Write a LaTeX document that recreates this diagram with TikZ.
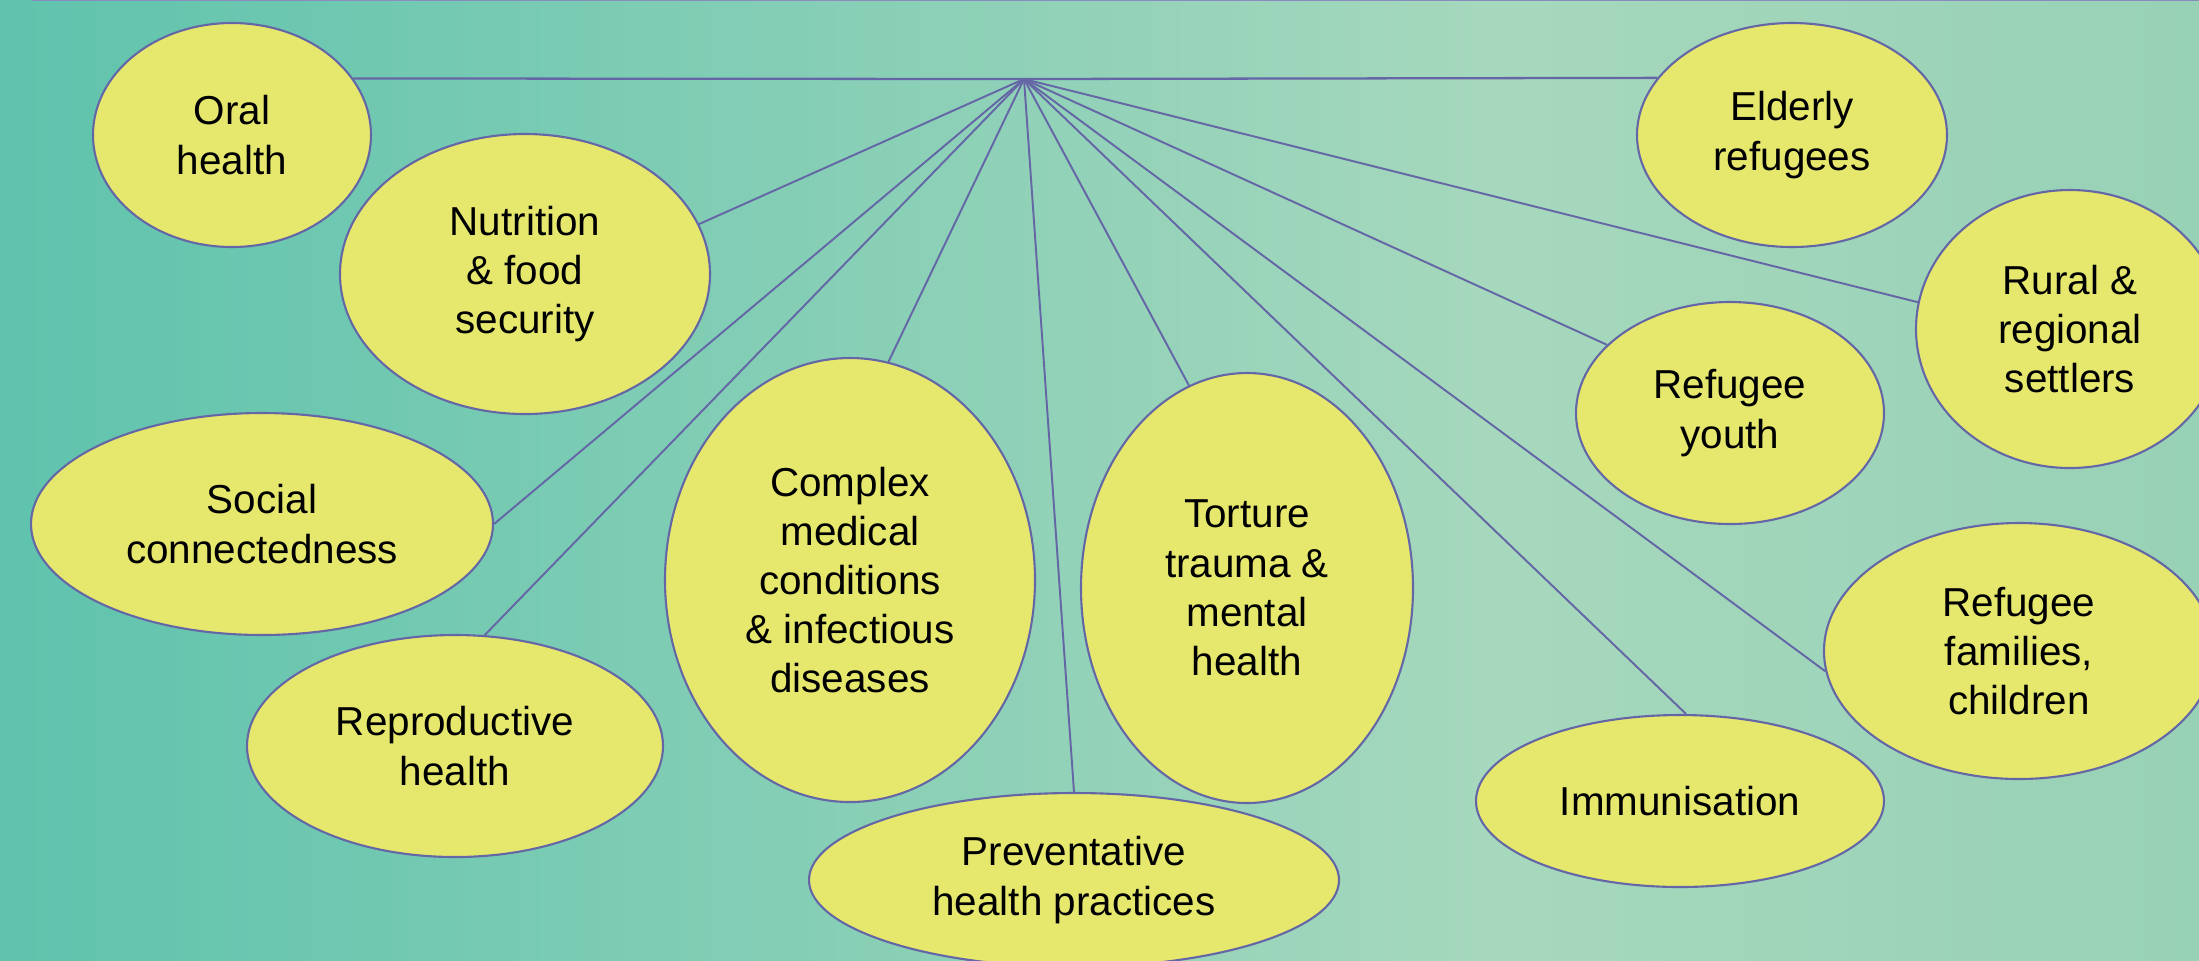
\documentclass[tikz,border=0pt]{standalone}
\usepackage{fontspec}
\setmainfont{Liberation Sans}
\usetikzlibrary{shapes.geometric}
\definecolor{hnyellow}{HTML}{E6E86E}
\definecolor{hnline}{HTML}{6466A6}
\definecolor{hnrule}{HTML}{8A8CC0}
\definecolor{hnbgleft}{HTML}{5FC3AD}
\definecolor{hnbglight}{HTML}{A6D8BD}
\definecolor{hnbgright}{HTML}{97D1B6}

\begin{document}
\begin{tikzpicture}[
  font=\fontsize{11.5}{14}\selectfont,
  topic/.style={ellipse, draw=hnline, fill=hnyellow, line width=0.6pt,
                inner sep=0pt, align=center},
  link/.style={draw=hnline, line width=0.55pt}]

% ---- background -----------------------------------------------------
\useasboundingbox (0,0) rectangle (21.99,-9.6);
\shade[left color=hnbgleft, right color=hnbglight] (0,0) rectangle (15.01,-9.6);
\shade[left color=hnbglight, right color=hnbgright] (15,0) rectangle (21.99,-9.6);
\draw[hnrule, line width=0.4pt] (0.32,-0.005) -- (21.99,-0.005);

% ---- topics ---------------------------------------------------------
\coordinate (hub) at (10.24,-0.79);

\node[topic, minimum width=2.78cm, minimum height=2.24cm] (oral) at (2.32,-1.35)
  {Oral\\health};
\node[topic, minimum width=3.70cm, minimum height=2.80cm] (nutri) at (5.25,-2.74)
  {Nutrition\\\& food\\security};
\node[topic, minimum width=4.62cm, minimum height=2.22cm] (social) at (2.62,-5.24)
  {Social\\connectedness};
\node[topic, minimum width=4.16cm, minimum height=2.22cm] (repro) at (4.55,-7.46)
  {Reproductive\\health};
\node[topic, minimum width=3.70cm, minimum height=4.44cm] (complex) at (8.50,-5.80)
  {Complex\\medical\\conditions\\\& infectious\\diseases};
\node[topic, minimum width=5.30cm, minimum height=1.74cm] (prevent) at (10.74,-8.80)
  {Preventative\\health practices};
\node[topic, minimum width=3.32cm, minimum height=4.30cm] (torture) at (12.47,-5.88)
  {Torture\\trauma \&\\mental\\health};
\node[topic, minimum width=4.08cm, minimum height=1.72cm] (immun) at (16.80,-8.01)
  {Immunisation};
\node[topic, minimum width=3.90cm, minimum height=2.56cm] (families) at (20.19,-6.51)
  {Refugee\\families,\\children};
\node[topic, minimum width=3.08cm, minimum height=2.22cm] (youth) at (17.30,-4.13)
  {Refugee\\youth};
\node[topic, minimum width=3.08cm, minimum height=2.78cm] (rural) at (20.70,-3.29)
  {Rural \&\\regional\\settlers};
\node[topic, minimum width=3.10cm, minimum height=2.24cm] (elderly) at (17.92,-1.35)
  {Elderly\\refugees};

% ---- links ----------------------------------------------------------
\draw[link, line width=0.65pt] (oral.25) -- (hub) -- (elderly.157);
\foreach \t in {nutri.16, social.east, repro.75, complex.80, prevent.north,
                torture.106, immun.86, families.186, youth.151, rural.170}
  \draw[link] (hub) -- (\t);
\end{tikzpicture}
\end{document}
